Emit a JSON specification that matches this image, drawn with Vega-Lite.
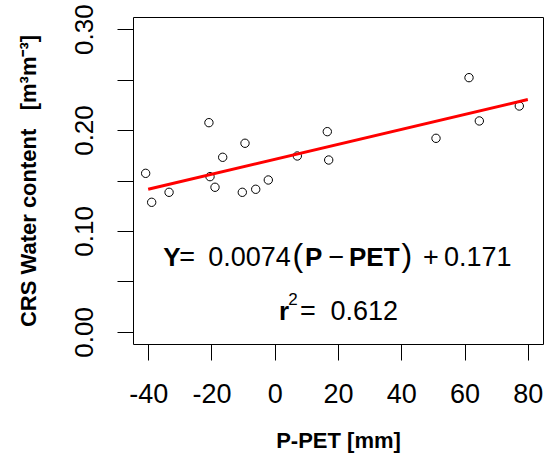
{
  "$schema": "https://vega.github.io/schema/vega-lite/v6.json",
  "width": 410,
  "height": 327,
  "autosize": {"type": "none"},
  "padding": {"left": 133, "top": 17, "right": 1, "bottom": 113},
  "background": "white",
  "config": {
    "view": {"stroke": "black", "strokeWidth": 1},
    "font": "Liberation Sans"
  },
  "datasets": {
    "points": [
      {"x": -40.8, "y": 0.1571},
      {"x": -38.9, "y": 0.1284},
      {"x": -33.4, "y": 0.1383},
      {"x": -20.8, "y": 0.2073},
      {"x": -20.46, "y": 0.1538},
      {"x": -18.88, "y": 0.1433},
      {"x": -16.45, "y": 0.173},
      {"x": -9.4, "y": 0.1869},
      {"x": -10.25, "y": 0.1383},
      {"x": -6.01, "y": 0.1413},
      {"x": -2.03, "y": 0.1505},
      {"x": 7.14, "y": 0.1743},
      {"x": 16.62, "y": 0.1984},
      {"x": 17.06, "y": 0.1703},
      {"x": 50.98, "y": 0.1918},
      {"x": 61.41, "y": 0.2519},
      {"x": 64.67, "y": 0.209},
      {"x": 77.31, "y": 0.2238}
    ],
    "fit": [
      {"x": -40, "y": 0.1414},
      {"x": 80, "y": 0.2302}
    ],
    "eqNormal": [
      {"x": -30.2, "y": 0.0656, "label": "="},
      {"x": -21.0, "y": 0.0656, "label": "0.0074"},
      {"x": 17.0, "y": 0.0656, "label": "−"},
      {"x": 46.87, "y": 0.0656, "label": "+"},
      {"x": 53.5, "y": 0.0656, "label": "0.171"},
      {"x": 7.99, "y": 0.0118, "label": "="},
      {"x": 17.63, "y": 0.0118, "label": "0.612"}
    ],
    "eqBold": [
      {"x": -35.2, "y": 0.0656, "label": "Y"},
      {"x": 9.57, "y": 0.0656, "label": "P"},
      {"x": 23.48, "y": 0.0656, "label": "PET"},
      {"x": 1.35, "y": 0.0118, "label": "r"}
    ],
    "eqParen": [
      {"x": 5.6, "y": 0.065, "label": "("},
      {"x": 40.1, "y": 0.065, "label": ")"}
    ],
    "eqSup": [
      {"x": 4.3, "y": 0.0266, "label": "2"}
    ]
  },
  "layer": [
    {
      "data": {"name": "points"},
      "mark": {"type": "point", "shape": "circle", "filled": false, "stroke": "black", "strokeWidth": 1, "size": 70, "opacity": 1},
      "encoding": {
        "x": {
          "field": "x", "type": "quantitative",
          "scale": {"domain": [-44.8, 84.8], "nice": false, "zero": false},
          "axis": {
            "title": "P-PET [mm]",
            "values": [-40, -20, 0, 20, 40, 60, 80],
            "labelExpr": "replace(datum.label, '−', '-')",
            "domain": false, "grid": false,
            "tickSize": 16, "tickColor": "black", "tickWidth": 1,
            "labelFont": "Liberation Sans", "labelFontSize": 27, "labelColor": "black",
            "labelPadding": 21, "labelFlush": false, "labelOverlap": false,
            "titleFont": "Liberation Sans", "titleFontSize": 22, "titleFontWeight": "bold",
            "titleColor": "black", "titlePadding": 23
          }
        },
        "y": {
          "field": "y", "type": "quantitative",
          "scale": {"domain": [-0.012, 0.312], "nice": false, "zero": false},
          "axis": {
            "title": "CRS Water content\u00a0\u00a0\u00a0[m\u00b3m\u207b\u00b3]",
            "values": [0, 0.05, 0.1, 0.15, 0.2, 0.25, 0.3],
            "labelExpr": "round(datum.value * 20) % 2 == 1 ? '' : format(datum.value, '.2f')",
            "domain": false, "grid": false,
            "tickSize": 16, "tickColor": "black", "tickWidth": 1,
            "labelAngle": -90, "labelAlign": "center", "labelBaseline": "alphabetic",
            "labelFont": "Liberation Sans", "labelFontSize": 26, "labelColor": "black",
            "labelPadding": 25, "labelFlush": false, "labelOverlap": false,
            "titleFont": "Liberation Sans", "titleFontSize": 22, "titleFontWeight": "bold",
            "titleColor": "black", "titlePadding": 31
          }
        }
      }
    },
    {
      "data": {"name": "fit"},
      "mark": {"type": "line", "color": "#ff0000", "strokeWidth": 3},
      "encoding": {
        "x": {"field": "x", "type": "quantitative"},
        "y": {"field": "y", "type": "quantitative"}
      }
    },
    {
      "data": {"name": "eqNormal"},
      "mark": {"type": "text", "align": "left", "baseline": "alphabetic", "font": "Liberation Sans", "fontSize": 27, "color": "black"},
      "encoding": {
        "x": {"field": "x", "type": "quantitative"},
        "y": {"field": "y", "type": "quantitative"},
        "text": {"field": "label"}
      }
    },
    {
      "data": {"name": "eqBold"},
      "mark": {"type": "text", "align": "left", "baseline": "alphabetic", "font": "Liberation Sans", "fontSize": 26, "fontWeight": "bold", "color": "black"},
      "encoding": {
        "x": {"field": "x", "type": "quantitative"},
        "y": {"field": "y", "type": "quantitative"},
        "text": {"field": "label"}
      }
    },
    {
      "data": {"name": "eqParen"},
      "mark": {"type": "text", "align": "left", "baseline": "alphabetic", "font": "Liberation Sans", "fontSize": 32, "color": "black"},
      "encoding": {
        "x": {"field": "x", "type": "quantitative"},
        "y": {"field": "y", "type": "quantitative"},
        "text": {"field": "label"}
      }
    },
    {
      "data": {"name": "eqSup"},
      "mark": {"type": "text", "align": "left", "baseline": "alphabetic", "font": "Liberation Sans", "fontSize": 17, "color": "black"},
      "encoding": {
        "x": {"field": "x", "type": "quantitative"},
        "y": {"field": "y", "type": "quantitative"},
        "text": {"field": "label"}
      }
    }
  ]
}
